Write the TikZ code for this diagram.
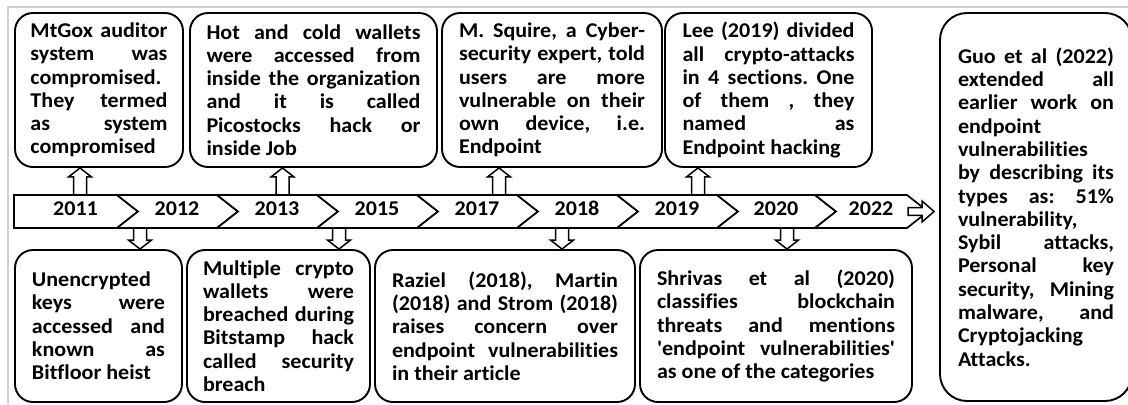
\documentclass[tikz,border=0pt]{standalone}
\usepackage{fontspec}
\newfontfamily\cfont{Carlito}[FakeStretch=1.05, Ligatures=NoCommon]
\usetikzlibrary{calc}

\begin{document}
\begin{tikzpicture}[x=1bp,y=-1bp,
  txt/.style={font=\cfont\bfseries\fontsize{21bp}{23.3bp}\selectfont\frenchspacing},
  note/.style={txt, draw, line width=1.9bp, rounded corners=18bp, inner sep=0pt, align=justify},
  seg/.style={draw, fill=white, line width=1.7bp, line join=miter},
  year/.style={txt, inner sep=0pt, minimum height=33bp, minimum width=60bp, text height=13.3bp, text depth=5bp},
  hollow/.style n args={3}{draw, fill=white, line width=1.5bp, line join=miter,
    to path={
      ($(\tikztotarget)!#3!(\tikztostart)$) coordinate (hb)
      ($(\tikztostart)!#1!90:(\tikztotarget)$) -- ($(hb)!#1!90:(\tikztotarget)$)
      -- ($(hb)!#2!90:(\tikztotarget)$) -- (\tikztotarget)
      -- ($(hb)!#2!-90:(\tikztotarget)$) -- ($(hb)!#1!-90:(\tikztotarget)$)
      -- ($(\tikztostart)!#1!-90:(\tikztotarget)$) -- cycle}},
  varrow/.style={hollow={6.5bp}{11.5bp}{9bp}},
  harrow/.style={hollow={3.8bp}{10.5bp}{12bp}}]

\useasboundingbox (0,0) rectangle (1128,404);
\clip (0,0) rectangle (1128,404);

% thin grey frame along the top and left edges
\draw[line width=2bp, black!18] (8,404) -- (8,7) -- (1128,7);

% timeline chevrons
\draw[seg] (14,195) -- (117,195) -- (138,211.5) -- (117,228) -- (14,228) -- cycle;
\foreach \a/\b in {117/217,217/317,317/417,417/517,517/617,617/717,717/815,815/907}
  \draw[seg] (\a,195) -- (\b,195) -- (\b+21,211.5) -- (\b,228) -- (\a,228) -- (\a+21,211.5) -- cycle;

% year labels
\node[year] (y2011) at (75.5,211.5) {2011};
\node[year] (y2012) at (177,211.5) {2012};
\node[year] (y2013) at (277,211.5) {2013};
\node[year] (y2015) at (377,211.5) {2015};
\node[year] (y2017) at (477,211.5) {2017};
\node[year] (y2018) at (577,211.5) {2018};
\node[year] (y2019) at (677,211.5) {2019};
\node[year] (y2020) at (776,211.5) {2020};
\node[year] (y2022) at (871,211.5) {2022};

% events above the timeline
\node[note, minimum width=168bp, minimum height=154bp, text width=137bp] (t1) at (99,90)
 {MtGox auditor\linebreak system was\linebreak compromised.\newline They termed\linebreak as system\linebreak compromised};
\node[note, minimum width=247bp, minimum height=154bp, text width=214bp] (t2) at (313.5,90)
 {Hot and cold wallets\linebreak were accessed from\linebreak inside the organization\linebreak and it is called\linebreak Picostocks hack or\linebreak inside Job};
\node[note, minimum width=220bp, minimum height=154bp, text width=186bp] (t3) at (552,90)
 {M. Squire, a Cyber-\linebreak security expert, told\linebreak users are more\linebreak vulnerable on their\linebreak own device, i.e.\linebreak Endpoint};
\node[note, minimum width=207bp, minimum height=154bp, text width=172bp] (t4) at (768.5,90)
 {Lee (2019) divided\linebreak all crypto-attacks\linebreak in 4 sections. One\linebreak of them , they\linebreak named as\linebreak Endpoint hacking};

% events below the timeline
\node[note, minimum width=167bp, minimum height=152bp, text width=133bp] (b1) at (98.5,326)
 {Unencrypted\newline keys were\linebreak accessed and\linebreak known as\linebreak Bitfloor heist};
\node[note, minimum width=183bp, minimum height=152bp, text width=151bp] (b2) at (278.5,326)
 {Multiple crypto\linebreak wallets were\linebreak breached during\linebreak Bitstamp hack\linebreak called security\linebreak breach};
\node[note, minimum width=260bp, minimum height=152bp, text width=226bp] (b3) at (505,326)
 {Raziel (2018), Martin\linebreak (2018) and Strom (2018)\linebreak raises concern over\linebreak endpoint vulnerabilities\linebreak in their article};
\node[note, minimum width=272bp, minimum height=152bp, text width=238bp] (b4) at (776,326)
 {Shrivas et al (2020)\linebreak classifies blockchain\linebreak threats and mentions\linebreak 'endpoint vulnerabilities'\linebreak as one of the categories};

% final summary box
\node[note, rounded corners=27bp, minimum width=192bp, minimum height=388bp, text width=156bp] (big) at (1036,207)
 {Guo et al (2022)\linebreak extended all\linebreak earlier work on\linebreak endpoint\newline vulnerabilities\newline by describing its\linebreak types as: 51\%\linebreak vulnerability,\newline Sybil attacks,\linebreak Personal key\linebreak security, Mining\linebreak malware, and\linebreak Cryptojacking\newline Attacks.};

% arrow anchor points
\coordinate (u1) at ([xshift=4.5bp]y2011.north);
\coordinate (u2) at ([xshift=5.5bp]y2013.north);
\coordinate (u3) at ([xshift=22bp]y2017.north);
\coordinate (u4) at ([xshift=21bp]y2019.north);
\coordinate (d1) at ([xshift=-37bp]y2012.south);
\coordinate (d2) at ([xshift=-38bp]y2015.south);
\coordinate (d3) at ([xshift=-15bp]y2018.south);
\coordinate (d4) at ([xshift=11bp]y2020.south);
\coordinate (h1) at (908,211.5);

% hollow arrows
\draw[varrow] (u1) to (u1 |- t1.south);
\draw[varrow] (u2) to (u2 |- t2.south);
\draw[varrow] (u3) to (u3 |- t3.south);
\draw[varrow] (u4) to (u4 |- t4.south);
\draw[varrow] (d1) to (d1 |- b1.north);
\draw[varrow] (d2) to (d2 |- b2.north);
\draw[varrow] (d3) to (d3 |- b3.north);
\draw[varrow] (d4) to (d4 |- b4.north);
\draw[harrow] (h1) to ($(h1 -| big.west)+(-5,0)$);
\end{tikzpicture}
\end{document}
